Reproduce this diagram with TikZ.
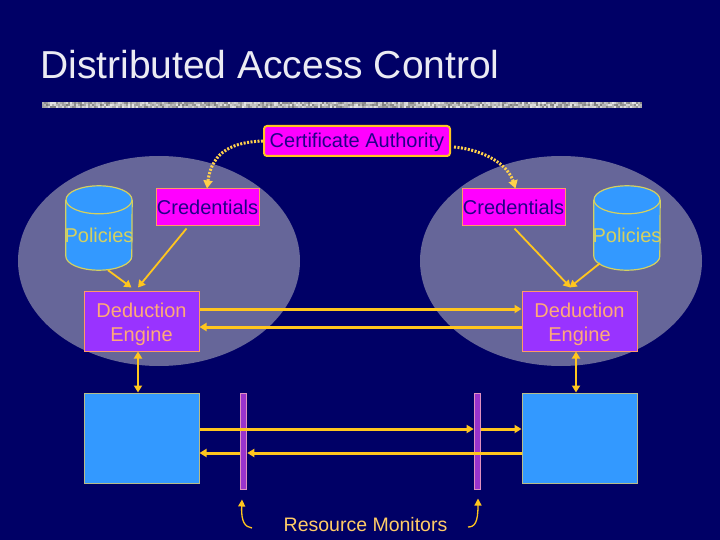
\documentclass[tikz,border=0pt]{standalone}
\usepackage{fontspec}
\setmainfont{Liberation Sans}
\usetikzlibrary{shapes.geometric,arrows.meta,calc}
\definecolor{navybg}{HTML}{000066}
\definecolor{ellfill}{HTML}{666699}
\definecolor{gold}{HTML}{FFC61E}
\definecolor{peach}{HTML}{FF9966}
\definecolor{peachtxt}{HTML}{FFAA77}
\definecolor{indigotxt}{HTML}{220088}
\definecolor{magfill}{HTML}{FF00FF}
\definecolor{purpfill}{HTML}{9933FF}
\definecolor{bluefill}{HTML}{3399FF}
\definecolor{monfill}{HTML}{9933CC}
\definecolor{monline}{HTML}{E090C0}
\definecolor{hostline}{HTML}{B8BC88}
\definecolor{olive}{HTML}{D4D060}
\definecolor{restxt}{HTML}{FFCC66}
\newcommand{\downtext}[1]{\rule{0pt}{#1pt}}
\tikzset{
  x=1pt,y=-1pt,
  blob/.style={ellipse,fill=ellfill,inner sep=0pt,minimum width=282pt,minimum height=210pt},
  cred/.style={rectangle,draw=peach,line width=1pt,fill=magfill,text=indigotxt,inner sep=0pt,minimum width=103pt,minimum height=37pt,font=\fontsize{20}{24}\selectfont},
  ca/.style={rectangle,rounded corners=3pt,draw=gold,line width=2pt,fill=magfill,text=indigotxt,inner sep=0pt,minimum width=186pt,minimum height=30pt,font=\fontsize{20}{24}\selectfont},
  cylbox/.style={rectangle,inner sep=0pt,minimum width=66pt,minimum height=84pt},
  cylline/.style={draw=olive,line width=1.2pt},
  poltxt/.style={text=olive,inner sep=0pt,font=\fontsize{20}{24}\selectfont},
  engine/.style={rectangle,draw=peach,line width=1pt,fill=purpfill,text=peachtxt,inner sep=0pt,minimum width=115pt,minimum height=60pt,align=center,font=\fontsize{20}{24}\selectfont},
  host/.style={rectangle,draw=hostline,line width=1pt,fill=bluefill,inner sep=0pt,minimum width=115pt,minimum height=90pt},
  monitor/.style={rectangle,draw=monline,line width=1pt,fill=monfill,inner sep=0pt,minimum width=6.5pt,minimum height=96pt},
  link/.style={draw=gold,line width=3pt,-{Triangle[length=7pt,width=8pt]}},
  thin link/.style={draw=gold,line width=1.8pt,-{Triangle[length=7pt,width=8pt]}},
  both link/.style={draw=gold,line width=1.8pt,{Triangle[length=7pt,width=8pt]}-{Triangle[length=7pt,width=8pt]}},
  dotlink/.style={draw=gold!80!white,line width=3pt,dash pattern=on 2pt off 1.5pt,-{Triangle[length=8pt,width=9pt]}},
  pointer/.style={draw=gold,line width=1.3pt,-{Triangle[length=7pt,width=7pt]}},
}
\begin{document}
\begin{tikzpicture}
\useasboundingbox (0,0) rectangle (720,540);
\fill[navybg] (0,0) rectangle (720,540);
% title and textured rule
\node[anchor=base west,inner sep=0pt,text=white!92!navybg,font=\fontsize{39}{46}\selectfont] (title) at (40,79) {Distributed Access Control};
\fill[black!30!white] (42,102) rectangle (642,108);
\pgfmathsetseed{7}
\foreach \i in {0,...,299}{
  \foreach \j in {0,1,2}{
    \pgfmathrandominteger{\g}{10}{50}
    \fill[black!\g!white] ({42+2*\i},{102+2*\j}) rectangle ++(2,2);
  }
}
% regions
\node[blob] (regL) at (159,261) {};
\node[blob] (regR) at (561,261) {};
% nodes
\node[ca] (auth) at (357,141) {\downtext{18}Certificate Authority};
\node[cred] (credL) at (207.5,207.5) {Credentials};
\node[cred] (credR) at (513.5,207.5) {Credentials};
\node[cylbox] (polL) at (99,228) {};
\node[cylbox] (polR) at (627,228) {};
% cylinders drawn on the two named boxes
\foreach \c in {polL,polR}{
  \fill[bluefill] ($(\c.north west)+(0,14)$) rectangle ($(\c.south east)+(0,-14)$);
  \fill[bluefill] ($(\c.south)+(0,-14)$) ellipse (33pt and 14pt);
  \draw[cylline] ($(\c.north west)+(0,14)$) -- ($(\c.south west)+(0,-14)$)
     arc[start angle=180,end angle=360,x radius=33pt,y radius=14pt] -- ($(\c.north east)+(0,14)$);
  \draw[cylline,fill=bluefill] ($(\c.north)+(0,14)$) ellipse (33pt and 14pt);
}
\node[poltxt] (polLt) at (99,235) {Policies};
\node[poltxt] (polRt) at (627,235) {Policies};
\node[engine] (engL) at (141.5,321) {\downtext{20.5}Deduction\\Engine};
\node[engine] (engR) at (579.5,321) {\downtext{20.5}Deduction\\Engine};
\node[host] (hostL) at (141.5,438) {};
\node[host] (hostR) at (579.5,438) {};
\node[monitor] (monL) at (243.5,441) {};
\node[monitor] (monR) at (477.4,441) {};
\node[anchor=base,inner sep=0pt,text=restxt,font=\fontsize{19.5}{24}\selectfont] (res) at (365.5,531) {Resource Monitors};
\coordinate (tailL) at (252,528);
\coordinate (tailR) at (468,527);
% dotted certificate arrows
\draw[dotlink] (auth.west) .. controls (235,142) and (212,150) .. ([xshift=-0.5pt]credL.north);
\draw[dotlink] ([yshift=-6pt,xshift=3pt]auth.east) .. controls (485,150) and (508,165) .. ([xshift=2pt]credR.north);
% into engines
\draw[thin link] ([xshift=9pt]polL.south) -- ([xshift=-10pt,yshift=3pt]engL.north);
\draw[thin link] ([xshift=-21pt,yshift=-2pt]credL.south) -- ([xshift=-3.5pt,yshift=3pt]engL.north);
\draw[thin link] ([xshift=1pt,yshift=-2pt]credR.south) -- ([xshift=-9pt,yshift=3pt]engR.north);
\draw[thin link] ([xshift=-27pt,yshift=7pt]polR.south) -- ([xshift=-10pt,yshift=3pt]engR.north);
% engine to engine
\draw[link] ([yshift=12pt]engL.east) -- ([yshift=12pt]engR.west);
\draw[link] ([yshift=-6pt]engR.west) -- ([yshift=-6pt]engL.east);
% engine to host
\draw[both link] ([xshift=-3.5pt]engL.south) -- ([xshift=-3.5pt]hostL.north);
\draw[both link] ([xshift=-3.5pt]engR.south) -- ([xshift=-3.5pt]hostR.north);
% host to host through monitors
\draw[link] ([yshift=9pt]hostL.east) -- ([yshift=12pt]monR.west);
\draw[link] ([yshift=12pt]monR.east) -- ([yshift=9pt]hostR.west);
\draw[link] ([yshift=-15pt]hostR.west) -- ([yshift=-12pt]monL.east);
\draw[link] ([yshift=-12pt]monL.west) -- ([yshift=-15pt]hostL.east);
% monitor pointers
\draw[pointer] (tailL) .. controls (245,527) and (241,522) .. ([xshift=-1.5pt,yshift=-10pt]monL.south);
\draw[pointer] (tailR) .. controls (475,527) and (478,522) .. ([xshift=0.6pt,yshift=-9pt]monR.south);
\end{tikzpicture}
\end{document}
